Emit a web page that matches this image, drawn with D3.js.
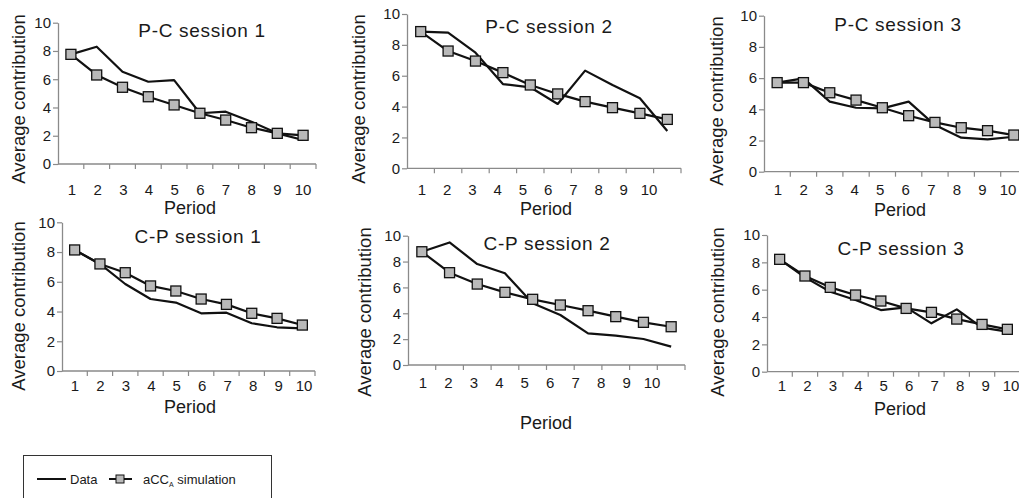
<!DOCTYPE html>
<html>
<head>
<meta charset="utf-8">
<script src="https://cdn.jsdelivr.net/npm/d3@7"></script>
<style>
  body { margin: 0; background: #fff; }
  text { font-family: Arial, "Liberation Sans", Helvetica, sans-serif; fill: #1a1a1a; }
</style>
</head>
<body>
<script>
var periods = [1, 2, 3, 4, 5, 6, 7, 8, 9, 10];
var yTicks = [0, 2, 4, 6, 8, 10];
var titles = ["P-C session 1", "P-C session 2", "P-C session 3",
              "C-P session 1", "C-P session 2", "C-P session 3"];

// experimental data (black line)
var dataPC1 = [7.76, 8.30, 6.53, 5.82, 5.94, 3.59, 3.70, 2.99, 2.17, 1.70];
var dataPC2 = [8.86, 8.79, 7.49, 5.46, 5.25, 4.17, 6.33, 5.40, 4.54, 2.42];
var dataPC3 = [5.71, 5.98, 4.49, 4.10, 4.06, 4.49, 2.99, 2.18, 2.07, 2.24];
var dataCP1 = [8.14, 7.20, 5.85, 4.84, 4.60, 3.88, 3.92, 3.21, 2.94, 2.87];
var dataCP2 = [8.76, 9.48, 7.81, 7.09, 4.77, 3.87, 2.45, 2.27, 2.01, 1.42];
var dataCP3 = [8.22, 6.90, 5.85, 5.24, 4.51, 4.71, 3.54, 4.56, 3.22, 2.93];

// aCC_A simulation (line with squares)
var simPC1 = [7.76, 6.30, 5.43, 4.76, 4.18, 3.59, 3.11, 2.57, 2.17, 2.03];
var simPC2 = [8.86, 7.60, 6.95, 6.20, 5.40, 4.82, 4.32, 3.93, 3.56, 3.17];
var simPC3 = [5.71, 5.71, 5.06, 4.59, 4.10, 3.59, 3.16, 2.82, 2.63, 2.35];
var simCP1 = [8.14, 7.20, 6.61, 5.72, 5.38, 4.84, 4.48, 3.88, 3.54, 3.09];
var simCP2 = [8.76, 7.14, 6.26, 5.62, 5.08, 4.64, 4.20, 3.74, 3.30, 2.96];
var simCP3 = [8.22, 7.00, 6.17, 5.61, 5.17, 4.63, 4.34, 3.85, 3.46, 3.10];

var dataSeries = [dataPC1, dataPC2, dataPC3, dataCP1, dataCP2, dataCP3];
var simSeries = [simPC1, simPC2, simPC3, simCP1, simCP2, simCP3];

// where each panel sits on the page
var layout = [
  {x0: 58,  x1: 316,  top: 22.7, bot: 164,   lab: [72, 303],   labY: 195, perX: 190, perY: 214, titX: 202, titY: 37,  ylX: 18.5, ylY: 99},
  {x0: 407, x1: 681,  top: 14,   bot: 168.3, lab: [422, 649],  labY: 195, perX: 546, perY: 215, titX: 549, titY: 33,  ylX: 358.5, ylY: 99},
  {x0: 764, x1: 1027, top: 15.7, bot: 171.7, lab: [778, 1008], labY: 195, perX: 900, perY: 216, titX: 898, titY: 31,  ylX: 716.7, ylY: 101},
  {x0: 62,  x1: 315,  top: 222.3, bot: 371,  lab: [75, 304],   labY: 391, perX: 190, perY: 413, titX: 198, titY: 243, ylX: 18.5, ylY: 306},
  {x0: 408, x1: 685,  top: 235.7, bot: 365,  lab: [423, 652],  labY: 388, perX: 546, perY: 429, titX: 547, titY: 250, ylX: 365, ylY: 312},
  {x0: 767, x1: 1020, top: 235,   bot: 371.7, lab: [782, 1011], labY: 391, perX: 900, perY: 415, titX: 901, titY: 255, ylX: 718, ylY: 312}
];

var svg = d3.select("body")
    .append("svg")
    .attr("width", 1019)
    .attr("height", 498);

layout.forEach(function(L, i) {
  var g = svg.append("g");

  var x = d3.scaleBand().domain(periods).range([L.x0, L.x1]).padding(0);
  var y = d3.scaleLinear().domain([0, 10]).range([L.bot, L.top]);
  var labX = d3.scalePoint().domain(periods).range(L.lab);
  var cx = function(p) { return x(p) + x.bandwidth() / 2; };

  // y axis
  var ya = g.append("g")
      .attr("transform", "translate(" + L.x0 + ",0)")
      .call(d3.axisLeft(y).tickValues(yTicks).tickSize(5).tickPadding(2).tickSizeOuter(0));
  ya.select(".domain").attr("stroke", "#8a8a8a").attr("stroke-width", 1.3);
  ya.selectAll(".tick line").attr("stroke", "#8a8a8a").attr("stroke-width", 1.2);
  ya.selectAll(".tick text").attr("font-size", 15).attr("font-family", "Arial, 'Liberation Sans', sans-serif").attr("fill", "#1a1a1a");

  // x axis, ticks between categories
  g.append("line")
      .attr("x1", L.x0).attr("x2", L.x1)
      .attr("y1", y(0)).attr("y2", y(0))
      .attr("stroke", "#8a8a8a").attr("stroke-width", 1.3);
  var edges = periods.slice(1).map(function(p) { return x(p); }).concat([L.x1]);
  g.selectAll(".xt").data(edges).enter().append("line")
      .attr("x1", d => d).attr("x2", d => d)
      .attr("y1", y(0)).attr("y2", y(0) + 5)
      .attr("stroke", "#8a8a8a").attr("stroke-width", 1.2);
  g.selectAll(".xl").data(periods).enter().append("text")
      .attr("x", d => labX(d)).attr("y", L.labY)
      .attr("text-anchor", "middle").attr("font-size", 15)
      .text(d => d);

  g.append("text")
      .attr("x", L.perX).attr("y", L.perY)
      .attr("text-anchor", "middle").attr("font-size", 18)
      .text("Period");

  g.append("text")
      .attr("transform", "translate(" + L.ylX + "," + L.ylY + ") rotate(-90)")
      .attr("dy", "0.35em")
      .attr("text-anchor", "middle").attr("font-size", 18.5)
      .text("Average contribution");

  g.append("text")
      .attr("x", L.titX).attr("y", L.titY)
      .attr("text-anchor", "middle").attr("font-size", 19)
      .attr("letter-spacing", "0.7px")
      .text(titles[i]);

  var line = d3.line()
      .x((d, j) => cx(periods[j]))
      .y(d => y(d));

  g.append("path")
      .attr("d", line(dataSeries[i]))
      .attr("fill", "none").attr("stroke", "#111").attr("stroke-width", 2.2)
      .attr("stroke-linejoin", "round");

  g.append("path")
      .attr("d", line(simSeries[i]))
      .attr("fill", "none").attr("stroke", "#111").attr("stroke-width", 2.2)
      .attr("stroke-linejoin", "round");

  g.selectAll(".sq").data(simSeries[i]).enter().append("rect")
      .attr("x", (d, j) => cx(periods[j]) - 5)
      .attr("y", d => y(d) - 5)
      .attr("width", 10).attr("height", 10)
      .attr("fill", "#b9b9b9").attr("stroke", "#111").attr("stroke-width", 1.3);
});

// legend
var lg = svg.append("g");
lg.append("rect")
    .attr("x", 23.5).attr("y", 455.5)
    .attr("width", 248).attr("height", 60)
    .attr("fill", "none").attr("stroke", "#333").attr("stroke-width", 1);
lg.append("line")
    .attr("x1", 37).attr("x2", 66).attr("y1", 479).attr("y2", 479)
    .attr("stroke", "#111").attr("stroke-width", 2);
lg.append("text").attr("x", 70).attr("y", 483.5).attr("font-size", 13).text("Data");
lg.append("line")
    .attr("x1", 109).attr("x2", 132).attr("y1", 479).attr("y2", 479)
    .attr("stroke", "#111").attr("stroke-width", 2);
lg.append("rect")
    .attr("x", 116).attr("y", 475).attr("width", 8).attr("height", 8)
    .attr("fill", "#b9b9b9").attr("stroke", "#111").attr("stroke-width", 1);
var lt = lg.append("text").attr("x", 143).attr("y", 483.5).attr("font-size", 13);
lt.append("tspan").text("aCC");
lt.append("tspan").attr("font-size", 7).attr("dy", 3).text("A");
lt.append("tspan").attr("dy", -3).text(" simulation");
</script>
</body>
</html>
